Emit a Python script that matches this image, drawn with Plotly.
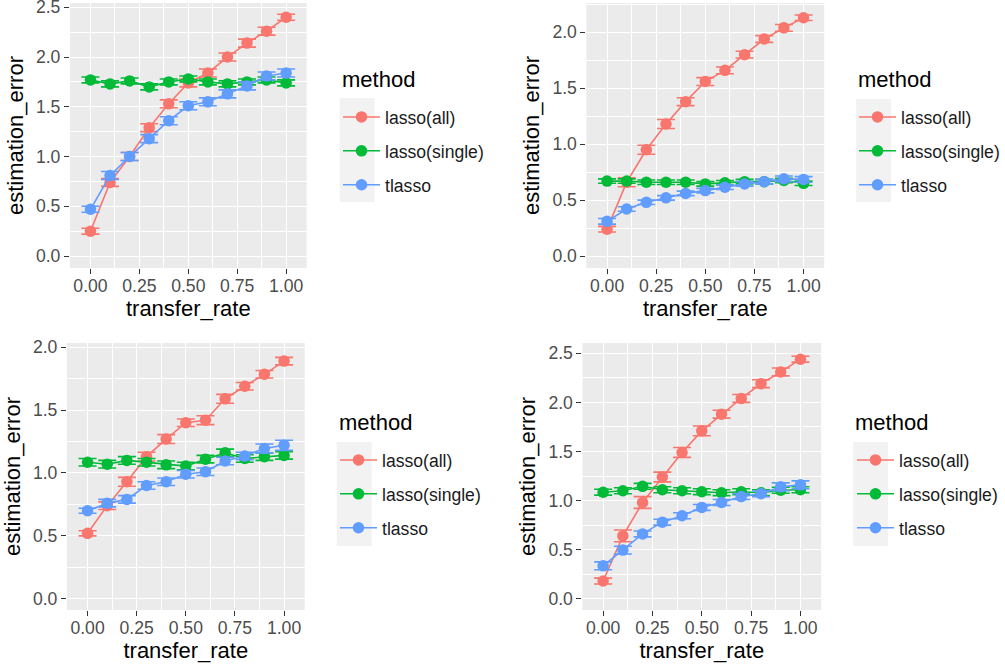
import plotly.graph_objects as go

# ---------------- data ----------------
transfer_rate = [0.0, 0.1, 0.2, 0.3, 0.4, 0.5, 0.6, 0.7, 0.8, 0.9, 1.0]
methods = ["lasso(all)", "lasso(single)", "tlasso"]
colors = ["#F8766D", "#00BA38", "#619CFF"]
x_ticks = [0.0, 0.25, 0.5, 0.75, 1.0]

# panel 1 (top-left)
p1_all = [0.25, 0.74, 1.00, 1.29, 1.53, 1.74, 1.84, 2.00, 2.14, 2.26, 2.40]
p1_single = [1.77, 1.73, 1.76, 1.70, 1.75, 1.78, 1.75, 1.73, 1.75, 1.77, 1.74]
p1_tlasso = [0.47, 0.81, 1.00, 1.18, 1.36, 1.51, 1.55, 1.63, 1.71, 1.81, 1.84]
p1_all_err = [0.03, 0.04, 0.04, 0.04, 0.04, 0.04, 0.04, 0.04, 0.04, 0.04, 0.03]
p1_single_err = [0.03, 0.03, 0.03, 0.03, 0.03, 0.03, 0.03, 0.03, 0.03, 0.03, 0.03]
p1_tlasso_err = [0.03, 0.04, 0.04, 0.04, 0.04, 0.04, 0.04, 0.04, 0.04, 0.04, 0.04]

# panel 2 (top-right)
p2_all = [0.24, 0.66, 0.95, 1.18, 1.38, 1.56, 1.66, 1.80, 1.94, 2.04, 2.13]
p2_single = [0.67, 0.67, 0.66, 0.66, 0.66, 0.645, 0.655, 0.665, 0.665, 0.675, 0.65]
p2_tlasso = [0.31, 0.42, 0.48, 0.52, 0.56, 0.585, 0.615, 0.645, 0.665, 0.69, 0.685]
p2_all_err = [0.025, 0.04, 0.04, 0.04, 0.035, 0.035, 0.03, 0.03, 0.03, 0.03, 0.025]
p2_single_err = [0.02, 0.02, 0.02, 0.02, 0.02, 0.02, 0.02, 0.02, 0.02, 0.02, 0.02]
p2_tlasso_err = [0.025, 0.02, 0.02, 0.02, 0.02, 0.02, 0.02, 0.02, 0.02, 0.025, 0.025]

# panel 3 (bottom-left)
p3_all = [0.52, 0.74, 0.93, 1.13, 1.27, 1.40, 1.42, 1.59, 1.69, 1.785, 1.89]
p3_single = [1.085, 1.07, 1.10, 1.085, 1.065, 1.055, 1.11, 1.16, 1.115, 1.13, 1.14]
p3_tlasso = [0.70, 0.76, 0.79, 0.90, 0.93, 0.99, 1.01, 1.095, 1.135, 1.195, 1.22]
p3_all_err = [0.02, 0.03, 0.035, 0.035, 0.035, 0.03, 0.035, 0.035, 0.03, 0.03, 0.03]
p3_single_err = [0.03, 0.03, 0.03, 0.03, 0.03, 0.03, 0.03, 0.03, 0.03, 0.03, 0.03]
p3_tlasso_err = [0.02, 0.03, 0.03, 0.03, 0.03, 0.03, 0.03, 0.03, 0.03, 0.035, 0.04]

# panel 4 (bottom-right)
p4_all = [0.18, 0.64, 0.98, 1.24, 1.49, 1.71, 1.88, 2.04, 2.19, 2.31, 2.44]
p4_single = [1.085, 1.10, 1.145, 1.11, 1.10, 1.09, 1.08, 1.09, 1.08, 1.105, 1.11]
p4_tlasso = [0.335, 0.495, 0.66, 0.78, 0.845, 0.93, 0.98, 1.04, 1.07, 1.14, 1.16]
p4_all_err = [0.03, 0.06, 0.06, 0.05, 0.05, 0.05, 0.04, 0.04, 0.04, 0.04, 0.03]
p4_single_err = [0.03, 0.03, 0.03, 0.03, 0.03, 0.03, 0.03, 0.03, 0.03, 0.03, 0.03]
p4_tlasso_err = [0.04, 0.04, 0.03, 0.03, 0.03, 0.03, 0.03, 0.03, 0.03, 0.04, 0.04]

panels = [
    ([p1_all, p1_single, p1_tlasso], [p1_all_err, p1_single_err, p1_tlasso_err]),
    ([p2_all, p2_single, p2_tlasso], [p2_all_err, p2_single_err, p2_tlasso_err]),
    ([p3_all, p3_single, p3_tlasso], [p3_all_err, p3_single_err, p3_tlasso_err]),
    ([p4_all, p4_single, p4_tlasso], [p4_all_err, p4_single_err, p4_tlasso_err]),
]

# ---------------- layout geometry (pixels) ----------------
W, H = 1005, 666
# (left, right, top, bottom) of each panel in pixels
boxes = [(70, 307, 3, 268), (587, 825, 3, 268), (67, 305, 343, 610), (583, 822, 343, 610)]
y_ranges = [[-0.12, 2.543], [-0.107, 2.262], [-0.09, 2.034], [-0.115, 2.605]]
x_range = [-0.105, 1.105]
# legend title (left px, center y px), first legend item center y px
legend_titles = [(340, 79), (857, 79), (337, 422), (854, 422)]
legend_first_item = [116, 116, 459, 459]
key_boxes = [(340, 375, 98, 202), (857, 892, 99, 202), (337, 372, 442, 546), (854, 889, 442, 546)]

FONT = "Liberation Sans, Arial, Helvetica, sans-serif"

fig = go.Figure()

for i, (series, errs) in enumerate(panels):
    xa = "x" if i == 0 else f"x{i+1}"
    ya = "y" if i == 0 else f"y{i+1}"
    lg = "legend" if i == 0 else f"legend{i+1}"
    for m, name in enumerate(methods):
        fig.add_trace(go.Scatter(
            x=transfer_rate, y=series[m], name=name,
            mode="lines+markers",
            line=dict(color=colors[m], width=1.6),
            marker=dict(color=colors[m], size=11.5),
            error_y=dict(type="data", array=errs[m], visible=True,
                         color=colors[m], thickness=1.6, width=9),
            xaxis=xa, yaxis=ya, legend=lg,
            legendgroup=f"p{i}_{m}",
        ))

layout = dict(
    width=W, height=H,
    margin=dict(l=0, r=0, t=0, b=0),
    paper_bgcolor="white", plot_bgcolor="#EBEBEB",
    font=dict(family=FONT, color="#4D4D4D"),
    showlegend=True,
)

annotations = []
for i, (l, r, t, b) in enumerate(boxes):
    sx = "" if i == 0 else str(i + 1)
    dy = y_ranges[i]
    common = dict(
        showgrid=True, gridcolor="white", gridwidth=1.3,
        zeroline=False, showline=False,
        ticks="outside", ticklen=5, tickwidth=1.3, tickcolor="#333333",
        tickfont=dict(size=17.6, color="#4D4D4D", family=FONT),
        ticklabeloverflow="allow",
        automargin=False,
    )
    layout[f"xaxis{sx}"] = dict(
        common, domain=[l / W, r / W], anchor=f"y{sx}", range=x_range,
        tickmode="array", tickvals=x_ticks, ticktext=[f"{v:.2f}" for v in x_ticks],
        ticklabelstandoff=-3,
        minor=dict(showgrid=True, gridcolor="white", gridwidth=0.6,
                   tickmode="array", tickvals=[-0.125, 0.125, 0.375, 0.625, 0.875, 1.125]),
        title=dict(text="transfer_rate", font=dict(size=22, color="black", family=FONT), standoff=2),
    )
    layout[f"yaxis{sx}"] = dict(
        common, domain=[1 - b / H, 1 - t / H], anchor=f"x{sx}", range=dy,
        tickmode="linear", tick0=0, dtick=0.5, tickformat=".1f",
        minor=dict(showgrid=True, gridcolor="white", gridwidth=0.6,
                   tickmode="linear", tick0=0.25, dtick=0.5),
        title=dict(text="estimation_error", font=dict(size=22, color="black", family=FONT), standoff=6),
    )
    lg = "legend" if i == 0 else f"legend{i+1}"
    tx, ty = legend_titles[i]
    fy = legend_first_item[i]
    layout[lg] = dict(
        x=(tx - 2) / W, y=1 - (fy - 17) / H, xanchor="left", yanchor="top",
        bgcolor="rgba(0,0,0,0)", borderwidth=0,
        font=dict(size=17.6, color="#1A1A1A", family=FONT),
        traceorder="grouped", tracegroupgap=8, itemwidth=37,
    )
    annotations.append(dict(
        text="method", xref="paper", yref="paper", x=tx / W, y=1 - ty / H,
        xanchor="left", yanchor="middle", showarrow=False,
        font=dict(size=22, color="black", family=FONT),
    ))

shapes = []
for (x0, x1, y0, y1) in key_boxes:
    shapes.append(dict(type="rect", xref="paper", yref="paper",
                       x0=x0 / W, x1=x1 / W, y0=1 - y1 / H, y1=1 - y0 / H,
                       fillcolor="#F2F2F2", line=dict(width=0), layer="below"))
layout["shapes"] = shapes
layout["annotations"] = annotations

fig.update_layout(**layout)
fig.write_html(
    "out.html",
    config={"displayModeBar": False},
    post_script="document.body.style.margin='0';document.body.style.overflow='hidden';",
)
